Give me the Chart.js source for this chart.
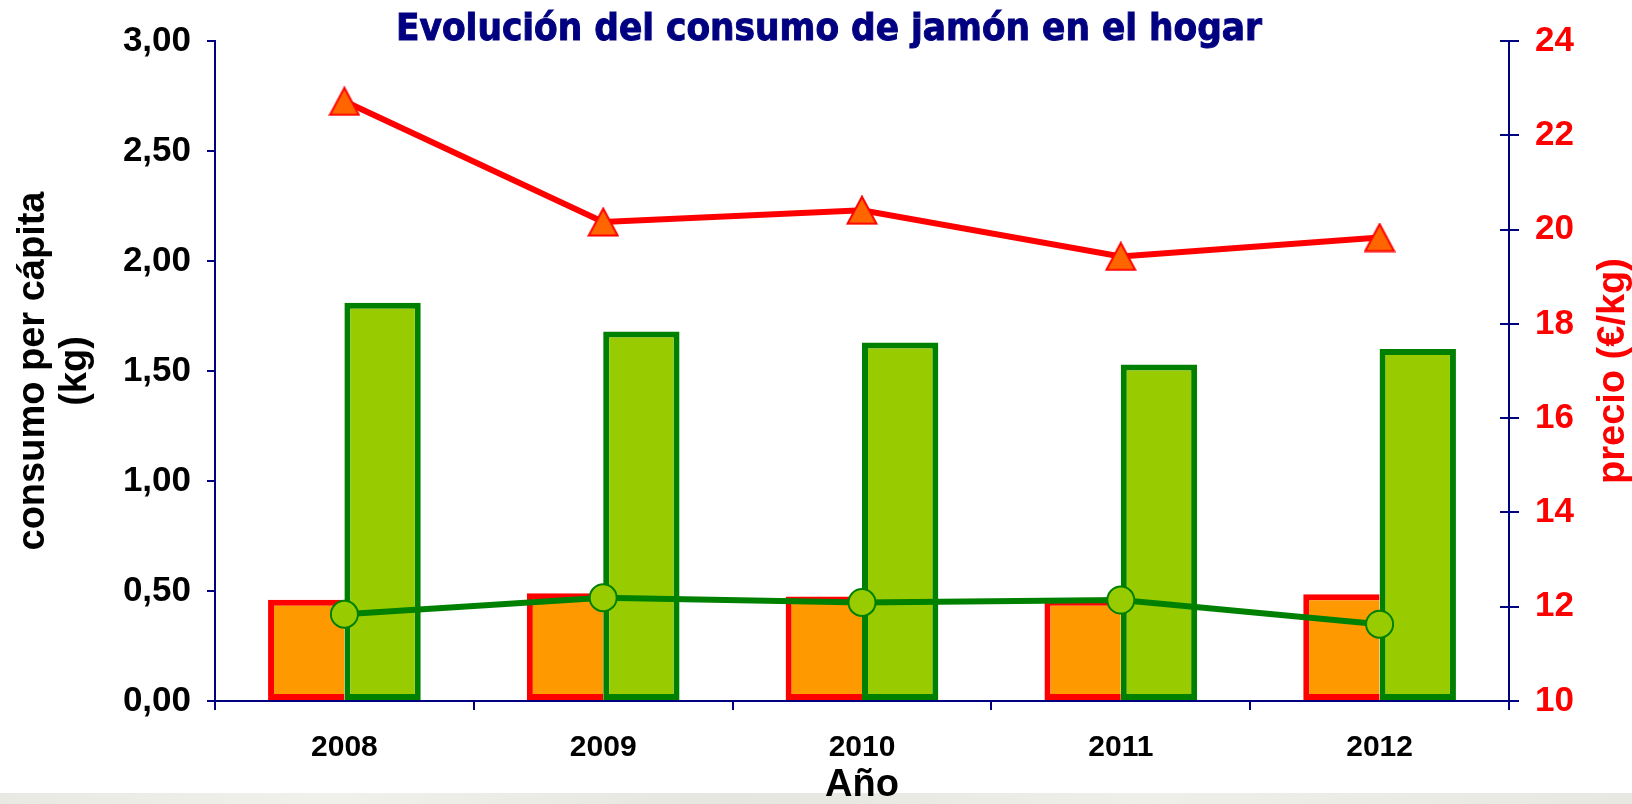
<!DOCTYPE html>
<html><head><meta charset="utf-8">
<script src="https://cdn.jsdelivr.net/npm/chart.js@4.4.1/dist/chart.umd.min.js"></script>
<style>
html,body{margin:0;padding:0;background:#fff;}
#wrap{position:relative;width:1632px;height:804px;overflow:hidden;}
#band{position:absolute;left:0;top:793px;width:1632px;height:11px;background:linear-gradient(90deg,#e9e9e3,#f1f1eb 20%,#e6e6e0 45%,#efefe9 70%,#e8e8e2);}
canvas{position:absolute;left:0;top:0;}
</style></head>
<body><div id="wrap"><div id="band"></div><canvas id="c" width="1632" height="804"></canvas></div>
<script>
// ---- data ----
const years = ['2008', '2009', '2010', '2011', '2012'];
const consumoNaranja = [0.46, 0.49, 0.475, 0.46, 0.485];   // kg, left axis
const consumoVerde   = [1.81, 1.68, 1.63, 1.53, 1.60];     // kg, left axis
const precioRojo     = [22.72, 20.16, 20.41, 19.43, 19.83]; // €/kg, right axis
const precioVerde    = [11.84, 12.19, 12.09, 12.14, 11.63]; // €/kg, right axis
const leftAxisRange  = [0, 3, 0.5];
const rightAxisRange = [10, 24, 2];
const chartTitle = 'Evolución del consumo de jamón en el hogar';
const leftTitle  = ['consumo per cápita', '(kg)'];
const rightTitle = 'precio (€/kg)';
const xTitle     = 'Año';

const FONT = "'Liberation Sans', Arial, sans-serif";
const NAVY = '#000080';

// triangle marker
const tri = document.createElement('canvas');
tri.width = 32; tri.height = 30;
const tc = tri.getContext('2d');
tc.beginPath(); tc.moveTo(16, 1.5); tc.lineTo(30.5, 28.5); tc.lineTo(1.5, 28.5); tc.closePath();
tc.fillStyle = '#FF6600'; tc.fill(); tc.lineWidth = 2; tc.strokeStyle = '#FF0000'; tc.stroke();

const decor = {
  id: 'decor',
  afterDraw(chart) {
    const ctx = chart.ctx;
    // main title
    ctx.save();
    ctx.font = 'bold 38px "DejaVu Sans"';
    const w = ctx.measureText(chartTitle).width;
    ctx.translate(829, 40);
    ctx.scale(866 / w, 1);
    ctx.fillStyle = NAVY;
    ctx.strokeStyle = NAVY;
    ctx.lineWidth = 1;
    ctx.textAlign = 'center';
    ctx.textBaseline = 'alphabetic';
    ctx.fillText(chartTitle, 0, 0);
    ctx.strokeText(chartTitle, 0, 0);
    ctx.restore();
    // right title (reads bottom to top)
    ctx.save();
    ctx.font = 'bold 38px ' + FONT;
    ctx.fillStyle = '#FF0000';
    ctx.translate(1614, 371);
    ctx.rotate(-Math.PI / 2);
    ctx.textAlign = 'center';
    ctx.textBaseline = 'middle';
    ctx.fillText(rightTitle, 0, 0);
    ctx.restore();
    // inner tick marks on right axis
    const s = chart.scales.y1;
    ctx.save();
    ctx.strokeStyle = NAVY; ctx.lineWidth = 2;
    s.ticks.forEach(t => {
      const y = Math.round(s.getPixelForValue(t.value));
      ctx.beginPath(); ctx.moveTo(s.left - 9, y); ctx.lineTo(s.left, y); ctx.stroke();
    });
    ctx.restore();
  }
};

new Chart(document.getElementById('c'), {
  type: 'bar',
  data: {
    labels: years,
    datasets: [
      { type: 'line', label: 'precio 1', data: precioRojo, yAxisID: 'y1', borderColor: '#FF0000', borderWidth: 6,
        pointStyle: tri, pointRadius: 16, pointHoverRadius: 16, tension: 0, fill: false, order: 0 },
      { type: 'line', label: 'precio 2', data: precioVerde, yAxisID: 'y1', borderColor: '#008000', borderWidth: 6,
        pointStyle: 'circle', pointRadius: 13.5, pointHoverRadius: 13.5, pointBackgroundColor: '#99CC00',
        pointBorderColor: '#008000', pointBorderWidth: 2, tension: 0, fill: false, order: 1 },
      { type: 'bar', label: 'consumo 1', data: consumoNaranja, yAxisID: 'y', backgroundColor: '#FF9900',
        borderColor: '#FF0000', borderWidth: { top: 6, left: 6, bottom: 6, right: 0 }, borderSkipped: false,
        categoryPercentage: 0.59, barPercentage: 1.0, order: 2 },
      { type: 'bar', label: 'consumo 2', data: consumoVerde, yAxisID: 'y', backgroundColor: '#99CC00',
        borderColor: '#008000', borderWidth: 6, borderSkipped: false,
        categoryPercentage: 0.59, barPercentage: 1.0, order: 3 }
    ]
  },
  options: {
    responsive: false,
    animation: false,
    devicePixelRatio: 1,
    layout: { padding: { top: 41, left: 0, right: 0, bottom: 0 } },
    plugins: { legend: { display: false }, tooltip: { enabled: false } },
    scales: {
      x: {
        offset: true,
        grid: { offset: true, drawOnChartArea: false, drawTicks: true, tickLength: 9, color: NAVY, lineWidth: 2 },
        border: { display: true, color: NAVY, width: 2 },
        ticks: { font: { family: FONT, size: 30, weight: 'bold' }, color: '#000', padding: 20 },
        title: { display: true, text: xTitle, color: '#000', font: { family: FONT, size: 38, weight: 'bold', lineHeight: 1 },
                 padding: { top: 0, bottom: -1 } },
        afterFit(s) { s.height = 103; }
      },
      y: {
        position: 'left', min: leftAxisRange[0], max: leftAxisRange[1],
        ticks: { stepSize: leftAxisRange[2], callback: v => v.toFixed(2).replace('.', ','),
                 font: { family: FONT, size: 35, weight: 'bold' }, color: '#000', padding: 16 },
        grid: { drawOnChartArea: false, drawTicks: true, tickLength: 8, color: NAVY, lineWidth: 2 },
        border: { display: true, color: NAVY, width: 2 },
        title: { display: true, text: leftTitle, color: '#000',
                 font: { family: FONT, size: 38, weight: 'bold', lineHeight: 1.11 }, padding: { top: 12, bottom: 0 } },
        afterFit(s) { s.width = 215; }
      },
      y1: {
        position: 'right', min: rightAxisRange[0], max: rightAxisRange[1],
        ticks: { stepSize: rightAxisRange[2], font: { family: FONT, size: 35, weight: 'bold' }, color: '#FF0000', padding: 16 },
        grid: { drawOnChartArea: false, drawTicks: true, tickLength: 10, color: NAVY, lineWidth: 2 },
        border: { display: true, color: NAVY, width: 2 },
        afterFit(s) { s.width = 123; }
      }
    }
  },
  plugins: [decor]
});
</script>
</body></html>
